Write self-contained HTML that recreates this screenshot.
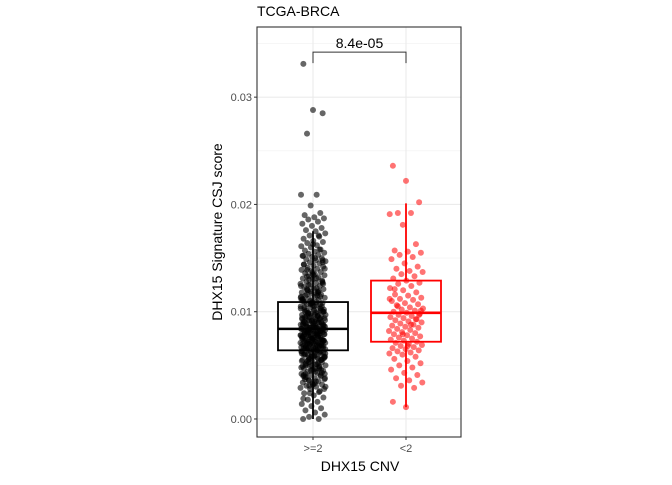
<!DOCTYPE html>
<html><head><meta charset="utf-8"><style>
body{margin:0;background:#fff;}
svg text{font-family:"Liberation Sans",Arial,sans-serif;}
</style></head><body>
<svg id="chart" width="672" height="480" xmlns="http://www.w3.org/2000/svg">
<rect width="672" height="480" fill="#fff"/>
<text x="257" y="16" font-size="14" fill="#000">TCGA-BRCA</text>
<rect x="257" y="27" width="204" height="410" fill="#fff"/>
<g id="grid"></g>
<g id="marks"></g>
<rect x="257" y="27" width="204" height="410" fill="none" stroke="#333" stroke-width="1.1"/>
<g id="axes"></g>
<text x="360" y="471" font-size="14" text-anchor="middle" fill="#000">DHX15 CNV</text>
<text transform="translate(222,232) rotate(-90)" font-size="14" text-anchor="middle" fill="#000">DHX15 Signature CSJ score</text>
</svg>
<script>
const categories=[">=2","<2"];
const colors=["#000000","#ff0000"];
const yTicks=[0,0.01,0.02,0.03];
const yTickLabels=["0.00","0.01","0.02","0.03"];
const boxStats=[[0.0,0.0064,0.0084,0.0109,0.0175],[0.0011,0.0072,0.0099,0.0129,0.0201]];
const pLabel="8.4e-05";
const pY=0.0342;
const redVals=[0.0236,0.0222,0.0202,0.0192,0.0192,0.0191,0.0181,0.0163,0.0157,0.0156,0.0155,0.0153,0.0151,0.0149,0.0145,0.0142,0.0140,0.0138,0.0137,0.0135,0.0133,0.0131,0.0129,0.0127,0.0126,0.0124,0.0122,0.0120,0.0118,0.0116,0.0115,0.0113,0.0112,0.0111,0.0110,0.0108,0.0107,0.0106,0.0104,0.0103,0.0102,0.0101,0.0100,0.0099,0.0098,0.0097,0.0096,0.0095,0.0094,0.0093,0.0092,0.0091,0.0090,0.0089,0.0088,0.0087,0.0086,0.0085,0.0084,0.0083,0.0082,0.0081,0.0080,0.0079,0.0078,0.0077,0.0076,0.0075,0.0074,0.0073,0.0072,0.0071,0.0070,0.0069,0.0068,0.0067,0.0066,0.0065,0.0064,0.0063,0.0062,0.0061,0.0060,0.0058,0.0056,0.0054,0.0052,0.0050,0.0048,0.0046,0.0043,0.0041,0.0038,0.0036,0.0034,0.0031,0.0029,0.0016,0.0011,0.0097,0.0105,0.0088,0.0112,0.0079,0.0093,0.0121,0.0068,0.0101];
const blackVals=[0.0331,0.0288,0.0285,0.0266,0.0209,0.0209,0.0199,0.0192,0.0190,0.0188,0.0187,0.0186,0.0184,0.0182,0.0180,0.0178,0.0176,0.0175,0.0173,0.0171,0.0170,0.0168,0.0166,0.0165,0.0164,0.0162,0.0161,0.0160,0.0158,0.0157,0.0156,0.0155,0.0154,0.0153,0.0152,0.0151,0.0150,0.0149,0.0148,0.0147,0.0146,0.0145,0.0144,0.0143,0.0142,0.0141,0.0140,0.0139,0.0138,0.0137,0.0136,0.0135,0.0134,0.0133,0.0132,0.0131,0.0130,0.0129,0.0128,0.0127,0.0126,0.0125,0.0124,0.0123,0.0122,0.0121,0.0120,0.0119,0.0118,0.0117,0.0116,0.0115,0.0114,0.0113,0.0112,0.0111,0.0110,0.0109,0.0108,0.0107,0.0106,0.0105,0.0104,0.0103,0.0102,0.0101,0.0100,0.0099,0.0098,0.0097,0.0096,0.0095,0.0094,0.0093,0.0092,0.0091,0.0090,0.0089,0.0088,0.0087,0.0086,0.0085,0.0084,0.0083,0.0082,0.0081,0.0080,0.0079,0.0078,0.0077,0.0076,0.0075,0.0074,0.0073,0.0072,0.0071,0.0070,0.0069,0.0068,0.0067,0.0066,0.0065,0.0064,0.0063,0.0062,0.0061,0.0060,0.0059,0.0058,0.0057,0.0056,0.0055,0.0054,0.0053,0.0052,0.0051,0.0050,0.0049,0.0048,0.0047,0.0046,0.0045,0.0044,0.0043,0.0042,0.0041,0.0040,0.0039,0.0038,0.0037,0.0036,0.0035,0.0034,0.0033,0.0032,0.0031,0.0030,0.0029,0.0028,0.0026,0.0024,0.0022,0.0020,0.0018,0.0016,0.0014,0.0012,0.0010,0.0008,0.0006,0.0004,0.0002,0.0000,0.0000,
0.0135,0.0128,0.0121,0.0117,0.0113,0.0110,0.0107,0.0104,0.0102,0.0100,0.0098,0.0096,0.0094,0.0092,0.0090,0.0089,0.0087,0.0086,0.0085,0.0084,0.0083,0.0082,0.0081,0.0080,0.0079,0.0078,0.0077,0.0076,0.0075,0.0074,0.0073,0.0072,0.0071,0.0070,0.0069,0.0068,0.0067,0.0066,0.0065,0.0064,0.0062,0.0060,0.0058,0.0056,0.0054,0.0051,0.0048,0.0045,0.0041,0.0037,0.0033,0.0028,
0.0125,0.0118,0.0112,0.0108,0.0105,0.0101,0.0099,0.0097,0.0095,0.0093,0.0091,0.0089,0.0088,0.0086,0.0085,0.0084,0.0083,0.0082,0.0081,0.0080,0.0079,0.0078,0.0077,0.0076,0.0075,0.0074,0.0073,0.0072,0.0071,0.0070,0.0068,0.0066,0.0064,0.0062,0.0060,0.0057,0.0054,0.0050,0.0046,0.0042,
0.0150,0.0140,0.0130,0.0119,0.0111,0.0106,0.0100,0.0096,0.0092,0.0088,0.0085,0.0082,0.0079,0.0076,0.0073,0.0070,0.0067,0.0063,0.0059,0.0055,0.0050,0.0044,0.0038,0.0031,0.0025,0.0019,
0.0163,0.0148,0.0139,0.0131,0.0124,0.0119,0.0114,0.0109,0.0105,0.0102,0.0099,0.0096,0.0093,0.0091,0.0089,0.0087,0.0085,0.0083,0.0081,0.0079,0.0077,0.0075,0.0073,0.0071,0.0069,0.0067,0.0065,0.0063,0.0061,0.0059,0.0057,0.0055,0.0052,0.0049,0.0046,0.0043,0.0039,0.0035,0.0030,0.0024,
0.0158,0.0144,0.0134,0.0126,0.0120,0.0115,0.0111,0.0108,0.0103,0.0100,0.0097,0.0094,0.0092,0.0090,0.0088,0.0086,0.0084,0.0082,0.0080,0.0078,0.0076,0.0074,0.0072,0.0070,0.0068,0.0066,0.0064,0.0061,0.0058,0.0055,0.0051,0.0047,0.0042,0.0036,
0.0171,0.0152,0.0137,0.0127,0.0116,0.0109,0.0103,0.0098,0.0094,0.0090,0.0087,0.0084,0.0081,0.0078,0.0075,0.0072,0.0069,0.0066,0.0062,0.0058,0.0053,0.0047,0.0040,0.0032,
0.0146,0.0133,0.0122,0.0114,0.0107,0.0101,0.0095,0.0091,0.0087,0.0083,0.0080,0.0077,0.0074,0.0071,0.0068,0.0065,0.0061,0.0056,0.0049,0.0041];
const NS="http://www.w3.org/2000/svg";
const X0=257,X1=461,Y0=437,Y1=27;
const yMin=-0.00168,yMax=0.03654;
function yScale(v){return Y0-(v-yMin)/(yMax-yMin)*(Y0-Y1);}
function xScale(i){return 313+i*93;}
function mk(tag,attrs,parent){const e=document.createElementNS(NS,tag);for(const k in attrs)e.setAttribute(k,attrs[k]);parent.appendChild(e);return e;}
const grid=document.getElementById('grid'),marks=document.getElementById('marks'),axes=document.getElementById('axes');
for(let k=0;k<yTicks.length-1;k++){const v=(yTicks[k]+yTicks[k+1])/2;
 const l=mk('line',{x1:X0,x2:X1,y1:yScale(v),y2:yScale(v),stroke:'#f0f0f0','stroke-width':0.6},grid);
 
 }
{const l=mk('line',{x1:X0,x2:X1,y1:yScale(0.035),y2:yScale(0.035),stroke:'#f0f0f0','stroke-width':0.6},grid);
 
 }
yTicks.forEach((v,k)=>{const y=yScale(v);
 const g=mk('line',{x1:X0,x2:X1,y1:y,y2:y,stroke:'#ebebeb','stroke-width':1.1},grid);
 
 
 const t=mk('line',{x1:X0-3,x2:X0,y1:y,y2:y,stroke:'#333','stroke-width':1},axes);
 
 
 const tx=mk('text',{x:X0-5,y:y+4,'font-size':11,'text-anchor':'end',fill:'#4d4d4d'},axes);tx.textContent=yTickLabels[k];
 
 });
categories.forEach((c,i)=>{const x=xScale(i);
 const g=mk('line',{x1:x,x2:x,y1:Y1,y2:Y0,stroke:'#ebebeb','stroke-width':1.1},grid);
 
 
 const t=mk('line',{x1:x,x2:x,y1:Y0,y2:Y0+3,stroke:'#333','stroke-width':1},axes);
 
 
 const tx=mk('text',{x:x,y:Y0+15,'font-size':11,'text-anchor':'middle',fill:'#4d4d4d'},axes);tx.textContent=c;
 
 });
boxStats.forEach((s,i)=>{const x=xScale(i),col=colors[i],hw=35;
 const w=mk('line',{x1:x,x2:x,y1:yScale(s[0]),y2:yScale(s[4]),stroke:col,'stroke-width':1.8},marks);
 
 
 const b=mk('rect',{x:x-hw,y:yScale(s[3]),width:hw*2,height:yScale(s[1])-yScale(s[3]),fill:'#fff',stroke:col,'stroke-width':1.8},marks);
 
 });
[blackVals,redVals].forEach((arr,i)=>{const x=xScale(i);
 arr.forEach((v,j)=>{const jit=(((j*37+11)%97)/96-0.5)*(i==0?25:34);
  const p=mk('circle',{cx:x+jit,cy:yScale(v),r:3,fill:colors[i],'fill-opacity':i==0?0.6:0.55},marks);
  
  });});
boxStats.forEach((s,i)=>{const x=xScale(i);
 const m=mk('line',{x1:x-35,x2:x+35,y1:yScale(s[2]),y2:yScale(s[2]),stroke:colors[i],'stroke-width':2.6},marks);
 
 });
{const yb=yScale(pY),x0=xScale(0),x1=xScale(1);
 const br=mk('path',{d:`M${x0},${yb+11}V${yb}H${x1}V${yb+11}`,fill:'none',stroke:'#333','stroke-width':1},marks);
 
 
 const t=mk('text',{x:(x0+x1)/2,y:yb-4,'font-size':14,'text-anchor':'middle',fill:'#000'},marks);t.textContent=pLabel;
 
 }
</script>
</body></html>
